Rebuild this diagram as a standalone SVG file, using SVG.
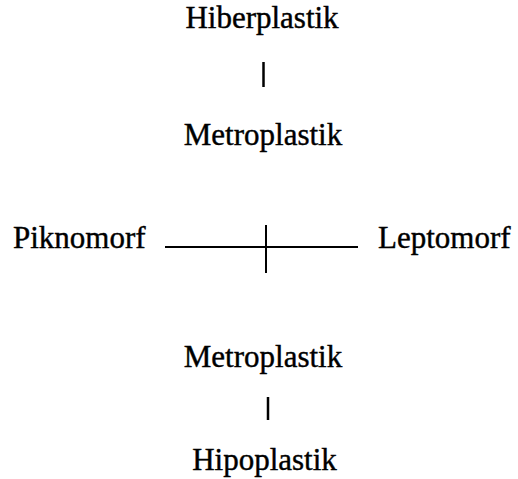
<svg xmlns="http://www.w3.org/2000/svg" width="518" height="479" viewBox="0 0 518 479">
<style>
.t{font-family:"Liberation Serif","Times New Roman",serif;font-size:31px;fill:#000;stroke:#000;stroke-width:0.4}
.c{text-anchor:middle}
.l{stroke:#000;fill:none}
</style>
<rect width="518" height="479" fill="#fff"/>
<g id="connectors">
<line class="l" x1="263.5" y1="62" x2="263.5" y2="87" stroke-width="2.5"/>
<line class="l" x1="165" y1="247" x2="358" y2="247" stroke-width="1.8"/>
<line class="l" x1="266" y1="225" x2="266" y2="273" stroke-width="2"/>
<line class="l" x1="268" y1="397" x2="268" y2="420" stroke-width="2.5"/>
</g>
<g id="hiberplastik"><text class="t c" x="262" y="28">Hiberplastik</text></g>
<g id="metroplastik-top"><text class="t c" x="263" y="145">Metroplastik</text></g>
<g id="piknomorf"><text class="t" x="13" y="248">Piknomorf</text></g>
<g id="leptomorf"><text class="t" x="378" y="248">Leptomorf</text></g>
<g id="metroplastik-bottom"><text class="t c" x="263" y="367">Metroplastik</text></g>
<g id="hipoplastik"><text class="t c" x="264.5" y="470">Hipoplastik</text></g>
</svg>
